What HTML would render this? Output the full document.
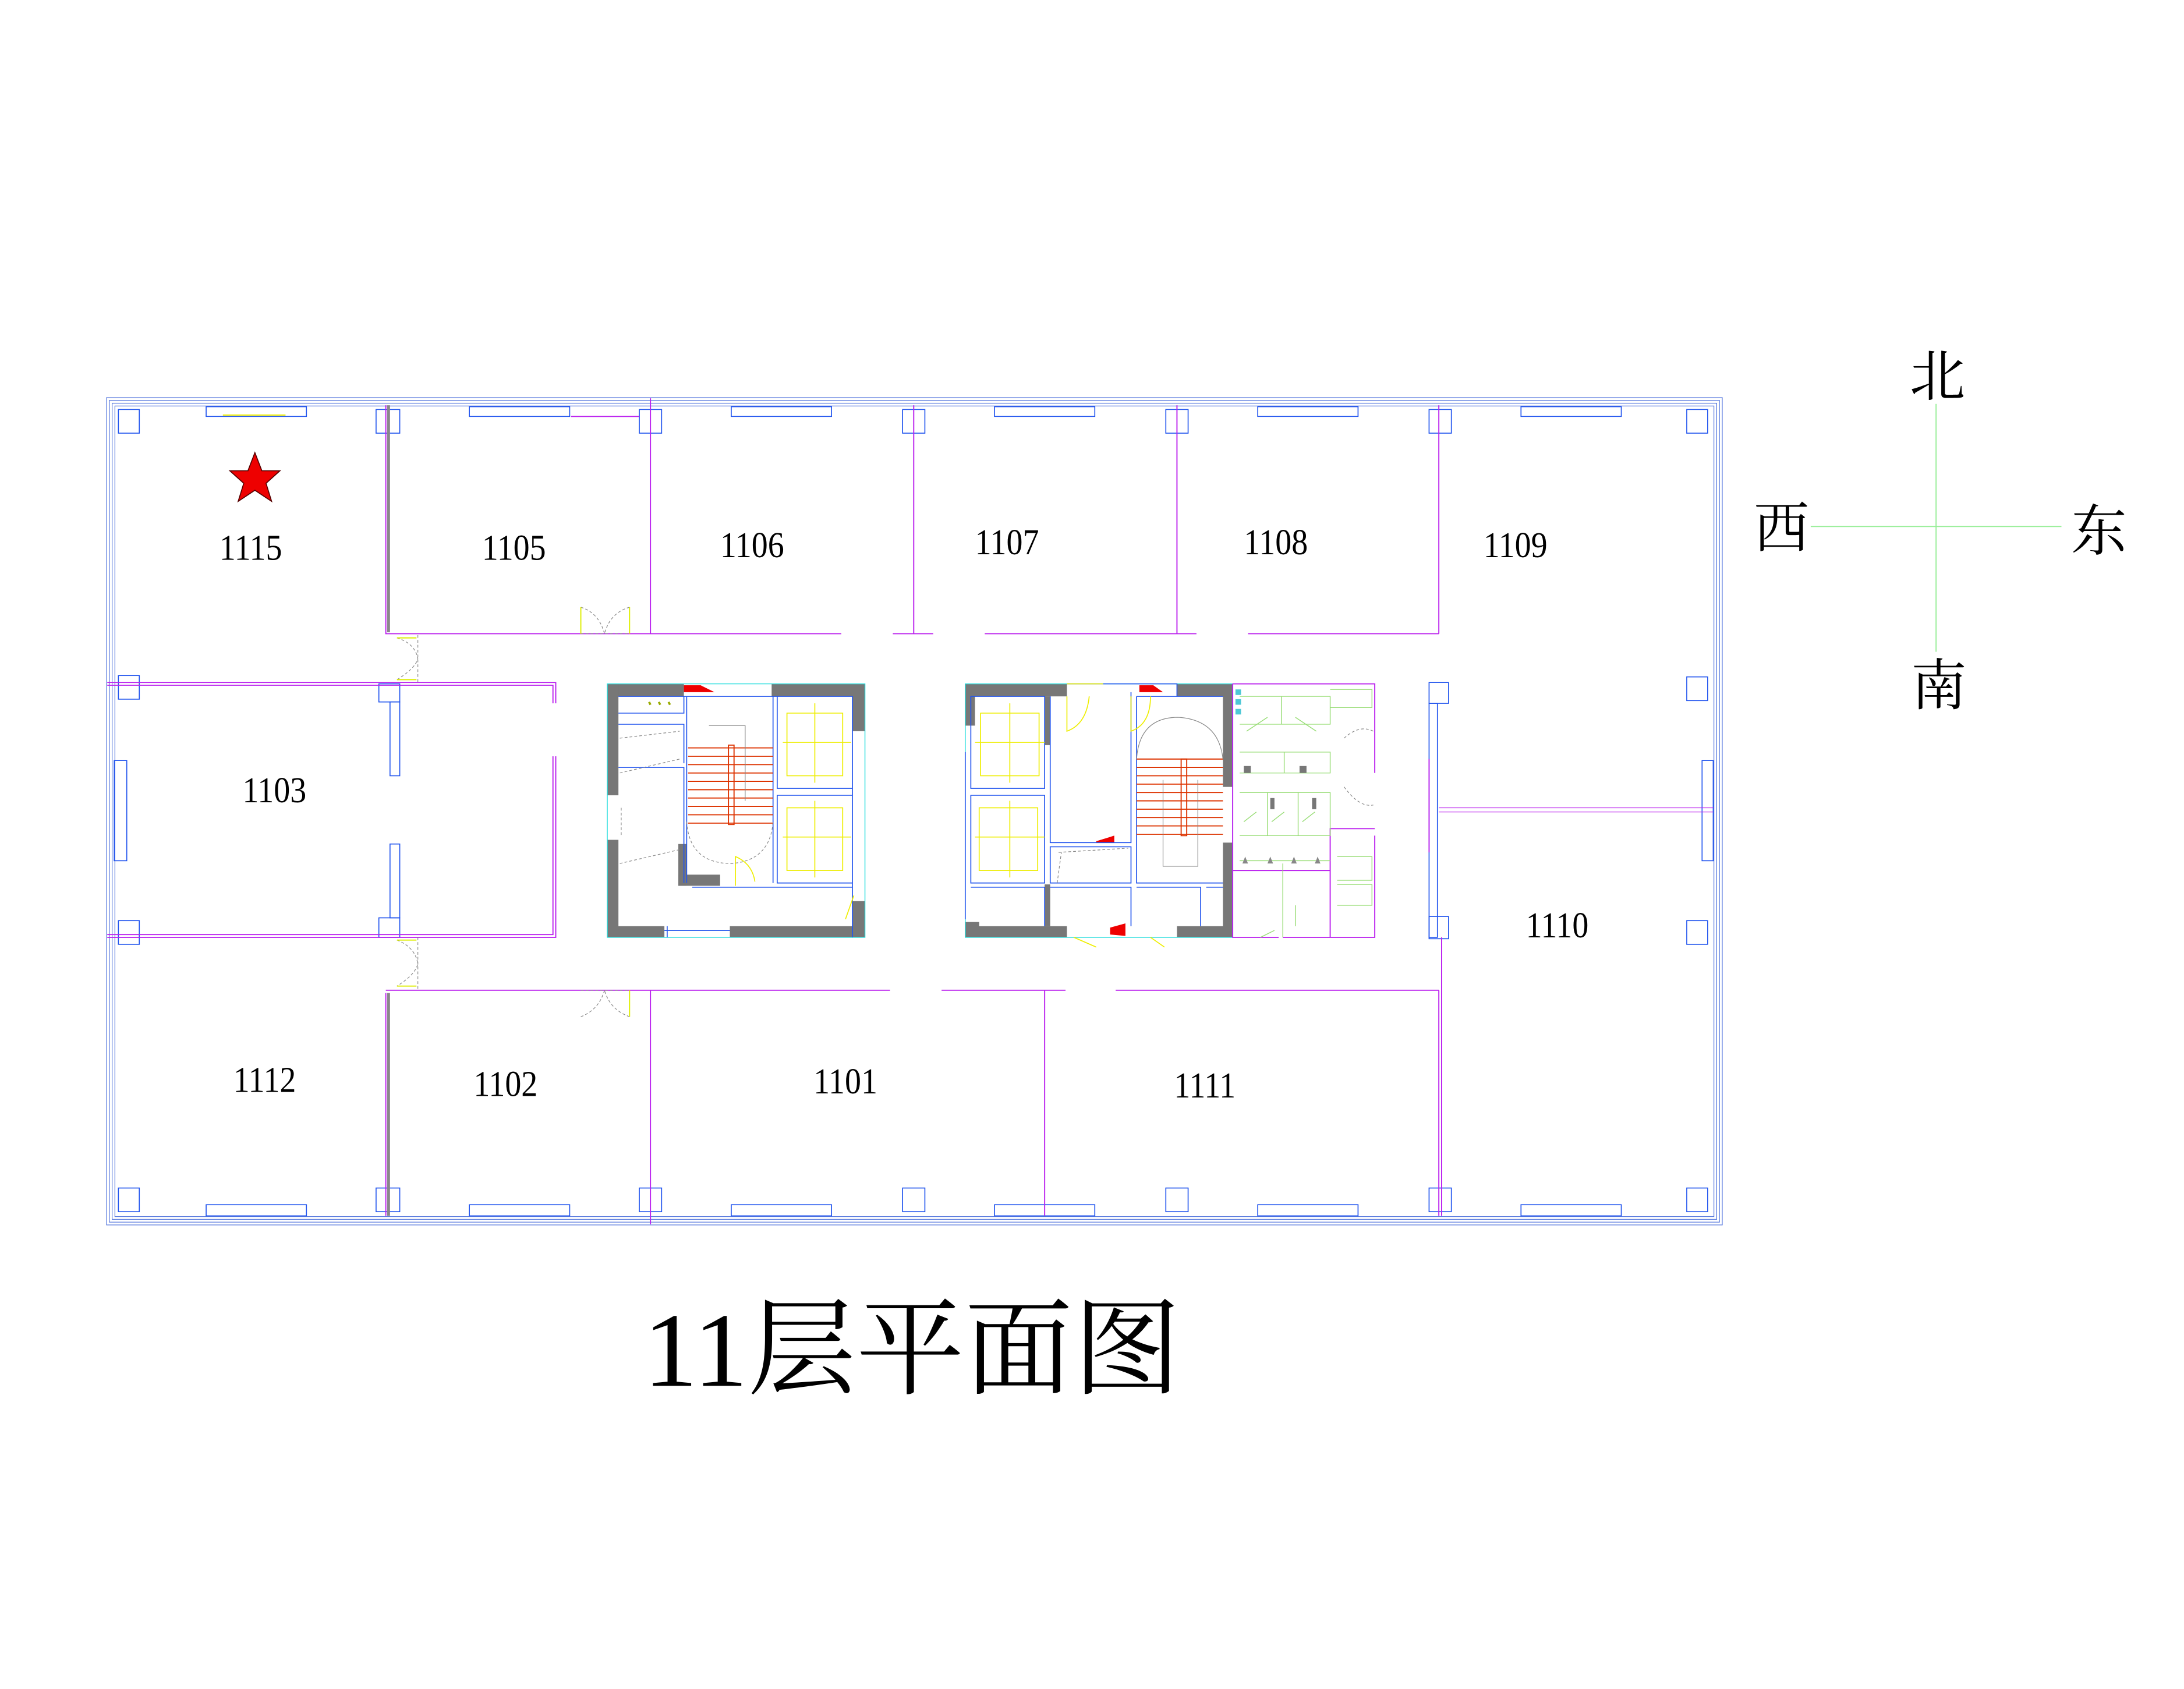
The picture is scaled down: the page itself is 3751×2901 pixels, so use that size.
<!DOCTYPE html>
<html><head><meta charset="utf-8"><style>
html,body{margin:0;padding:0;background:#fff;}
svg{display:block;}
.t{font-family:"Liberation Serif","Noto Serif CJK SC",serif;fill:#000;}
.b{fill:none;stroke:#2255ee;stroke-width:0.7}
.o{fill:none;stroke:#5577dd;stroke-width:0.5}
.m{fill:none;stroke:#bb22ee;stroke-width:0.8}
.g{fill:#777}
.y{fill:none;stroke:#eeee00;stroke-width:0.7}
.lg{fill:none;stroke:#99dd77;stroke-width:0.6}
.r{stroke:#dd3300;stroke-width:0.8}
.c{fill:none;stroke:#22dddd;stroke-width:0.6}
.d{fill:none;stroke:#888;stroke-width:0.5;stroke-dasharray:2 1.5}
</style></head><body>
<svg width="3751" height="2901" viewBox="0 0 1568 1212.7" preserveAspectRatio="none" xmlns="http://www.w3.org/2000/svg">
<rect width="1568" height="1213" fill="#fff"/>
<!-- outer walls -->
<rect class="o" x="76.5" y="285.5" width="1160" height="594"/>
<rect class="o" x="78.5" y="287.5" width="1156" height="590"/>
<rect class="o" x="80.5" y="289.5" width="1152" height="586"/>
<rect class="o" x="82.5" y="291.5" width="1148" height="582"/>
<!-- columns -->
<g class="b">
<rect x="85" y="294" width="15" height="17"/><rect x="270" y="294" width="17" height="17"/><rect x="459" y="294" width="16" height="17"/><rect x="648" y="294" width="16" height="17"/><rect x="837" y="294" width="16" height="17"/><rect x="1026" y="294" width="16" height="17"/><rect x="1211" y="294" width="15" height="17"/>
<rect x="85" y="853" width="15" height="17"/><rect x="270" y="853" width="17" height="17"/><rect x="459" y="853" width="16" height="17"/><rect x="648" y="853" width="16" height="17"/><rect x="837" y="853" width="16" height="17"/><rect x="1026" y="853" width="16" height="17"/><rect x="1211" y="853" width="15" height="17"/>
<rect x="85" y="485" width="15" height="17"/><rect x="85" y="661" width="15" height="17"/><rect x="1211" y="486" width="15" height="17"/><rect x="1211" y="661" width="15" height="17"/>
<rect x="1026" y="490" width="14" height="15"/><rect x="1026" y="658" width="14" height="16"/>
<!-- windows -->
<rect x="148" y="292" width="72" height="7"/><rect x="337" y="292" width="72" height="7"/><rect x="525" y="292" width="72" height="7"/><rect x="714" y="292" width="72" height="7"/><rect x="903" y="292" width="72" height="7"/><rect x="1092" y="292" width="72" height="7"/>
<rect x="148" y="865" width="72" height="8"/><rect x="337" y="865" width="72" height="8"/><rect x="525" y="865" width="72" height="8"/><rect x="714" y="865" width="72" height="8"/><rect x="903" y="865" width="72" height="8"/><rect x="1092" y="865" width="72" height="8"/>
<rect x="82" y="546" width="9" height="72"/><rect x="1222" y="546" width="8" height="72"/>
<rect x="1026" y="505" width="6" height="168"/>
<rect x="272" y="491" width="15" height="13"/><rect x="280" y="504" width="7" height="53"/><rect x="280" y="606" width="7" height="53"/><rect x="272" y="659" width="15" height="14"/>
</g>
<line x1="160" y1="298" x2="205" y2="298" stroke="#ee0" stroke-width="0.8"/>
<line x1="410" y1="299" x2="459" y2="299" class="m"/>
<!-- magenta partitions -->
<g class="m">
<path d="M277 291V455H604M641 455H670M707 455H859M896 455H1033"/>
<path d="M279 291V454" stroke="#888" stroke-width="2"/>
<path d="M467 286V455M656 291V455M845 291V455M1033 291V455"/>
<path d="M77 490H399V505M77 492H397V505M399 543V673H77M397 543V671H77"/>
<path d="M277 711H639M676 711H765M801 711H1033M277 713V873M467 711V879M750 711V873M1033 711V873M1035 673V873"/>
<path d="M279 713V873" stroke="#888" stroke-width="2"/>
<path d="M1033 580H1230M1033 583H1230" stroke-width="0.5"/>
<path d="M1026 545V612" />
</g>
<!-- doors -->
<g class="d"><path d="M417 436Q430 440 434 455M452 436Q438 440 434 455M417 455H452"/>
<path d="M285 458Q298 462 300 473Q298 480 285 488M300 456V490"/>
<path d="M285 675Q298 680 300 692Q298 700 285 708M300 673V711"/>
<path d="M417 711H452M417 730Q430 725 434 711M452 730Q438 725 434 711"/></g>
<g stroke="#ddee00" stroke-width="0.8"><path d="M417 436V455M452 436V455M285 458H299M285 488H299M285 675H299M285 708H299M452 711V730"/></g>
<!-- star -->
<polygon points="183,325 188,338 201,338 191,347 195,360 183,352 171,360 175,347 165,338 178,338" fill="#ee0000" stroke="#550000" stroke-width="0.7"/>
<!-- LEFT CORE -->
<g>
<rect class="g" x="436" y="491" width="55" height="9"/><rect class="g" x="554" y="491" width="67" height="9"/><rect class="g" x="612" y="491" width="9" height="34"/>
<rect class="g" x="436" y="491" width="8" height="80"/><rect class="g" x="436" y="603" width="8" height="70"/>
<rect class="g" x="436" y="665" width="41" height="8"/><rect class="g" x="524" y="665" width="97" height="8"/><rect class="g" x="612" y="647" width="9" height="26"/>
<rect class="g" x="487" y="606" width="6" height="30"/><rect class="g" x="487" y="628" width="30" height="8"/>
<rect class="c" x="436" y="491" width="185" height="182"/>
<polygon points="491,492 503,492 513,497 491,497" fill="#e00"/>
<g class="b"><path d="M444 500H612V673M444 512H491V500M444 520H491V548M444 551H491V634M493 500V634M555 500V634M558 500H612V566H558ZM558 571H612V634H558ZM497 637H612M477 668H524M479 665V673"/></g>
<g class="y"><rect x="565" y="512" width="40" height="45"/><rect x="565" y="580" width="40" height="45"/><path d="M562 533H611M562 601H611M585 505V562M585 575V630"/><path d="M528 636V615Q540 620 542 633"/></g>
<path d="M613 643L607 660" stroke="#ee0" stroke-width="0.7"/>
<path d="M466 504l1 2M473 504l1 2M480 504l1 2" stroke="#9a0" stroke-width="1.5"/>
<g class="r"><path d="M494 537H555M494 543H555M494 549H555M494 555H555M494 561H555M494 567H555M494 573H555M494 579H555M494 585H555M494 591H555"/></g>
<rect x="523" y="535" width="4" height="57" fill="none" stroke="#dd3300" stroke-width="0.8"/>
<path d="M493 590Q495 620 525 620Q553 618 555 590" class="d" stroke-dasharray="none"/>
<path d="M445 530L488 525M445 555L488 545M446 580V600M445 620L488 610" class="d"/>
<path d="M509 521H535V575" stroke="#888" stroke-width="0.5" fill="none"/>
</g>
<!-- RIGHT CORE -->
<g>
<rect class="g" x="693" y="491" width="73" height="9"/><rect class="g" x="693" y="491" width="7" height="30"/>
<rect class="g" x="845" y="491" width="40" height="9"/><rect class="g" x="878" y="491" width="7" height="74"/><rect class="g" x="878" y="605" width="7" height="68"/>
<rect class="g" x="693" y="665" width="73" height="8"/><rect class="g" x="845" y="665" width="40" height="8"/><rect class="g" x="693" y="662" width="10" height="11"/>
<rect class="g" x="750" y="500" width="4" height="35"/><rect class="g" x="750" y="635" width="4" height="30"/>
<rect class="c" x="693" y="491" width="192" height="182"/>
<polygon points="818,492 828,492 835,497 818,497" fill="#e00"/>
<polygon points="787,604 800,600 800,605 787,605" fill="#e00"/>
<polygon points="797,666 808,663 808,672 797,671" fill="#e00"/>
<g class="b"><path d="M697 500H750V566H697ZM697 571H750V634H697ZM754 500V605H812V497M816 500H878M816 500V634H878M754 608H812V634H754ZM697 637H750V665M754 637H812V665M816 637H862V665M866 637H878M693 540V660M766 491H845V500"/></g>
<g class="y"><rect x="704" y="512" width="42" height="45"/><rect x="703" y="580" width="42" height="45"/><path d="M700 533H750M700 601H750M725 505V562M725 575V630"/><path d="M766 500V525Q780 520 782 500M766 491H792M812 500V525Q826 520 826 500"/><path d="M771 673L787 680M826 673L836 680"/></g>
<g class="r"><path d="M816 545H878M816 551H878M816 557H878M816 563H878M816 569H878M816 575H878M816 581H878M816 587H878M816 593H878M816 599H878"/></g>
<rect x="848" y="545" width="4" height="55" fill="none" stroke="#dd3300" stroke-width="0.8"/>
<path d="M816 545Q818 515 846 515Q875 517 878 545" fill="none" stroke="#888" stroke-width="0.5"/>
<path d="M835 560V622H860V560" fill="none" stroke="#888" stroke-width="0.5"/>
<path d="M760 612L810 609M759 634L762 612" class="d"/>
</g>
<!-- TOILETS -->
<g>
<path class="m" d="M885 491H987V555M987 600V673H921M918 673H885V491M885 625H955V595H987M955 625V673"/>
<g class="lg"><path d="M890 500H955V520H890M920 500V520M955 495H985V508H955M890 540H955V555H890M922 540V555M890 569H955V600H890M910 569V600M932 569V600M890 618H955M960 615H985V632H960M960 635H985V650H960M921 620V673M930 650V665"/>
<path d="M895 525L910 515M930 515L945 525M893 590L902 583M913 590L922 583M935 590L944 583M905 673L915 668"/></g>
<g class="d"><path d="M965 530Q976 520 986 525M965 565Q976 580 986 578"/></g>
<g fill="#2bc" opacity="0.8"><rect x="887" y="495" width="4" height="4"/><rect x="887" y="502" width="4" height="4"/><rect x="887" y="509" width="4" height="4"/></g>
<g fill="#777"><rect x="893" y="550" width="5" height="5"/><rect x="933" y="550" width="5" height="5"/><rect x="912" y="573" width="3" height="8"/><rect x="942" y="573" width="3" height="8"/></g>
<g fill="#888"><path d="M892 620l2-5 2 5zM910 620l2-5 2 5zM927 620l2-5 2 5zM944 620l2-5 2 5z"/></g>
</g>
<!-- labels -->
<g class="t" font-size="26" text-anchor="middle">
<text x="180" y="402" transform="translate(180 0) scale(0.9 1) translate(-180 0)">1115</text>
<text x="369" y="402" transform="translate(369 0) scale(0.9 1) translate(-369 0)">1105</text>
<text x="540" y="400" transform="translate(540 0) scale(0.9 1) translate(-540 0)">1106</text>
<text x="723" y="398" transform="translate(723 0) scale(0.9 1) translate(-723 0)">1107</text>
<text x="916" y="398" transform="translate(916 0) scale(0.9 1) translate(-916 0)">1108</text>
<text x="1088" y="400" transform="translate(1088 0) scale(0.9 1) translate(-1088 0)">1109</text>
<text x="197" y="576" transform="translate(197 0) scale(0.9 1) translate(-197 0)">1103</text>
<text x="1118" y="673" transform="translate(1118 0) scale(0.9 1) translate(-1118 0)">1110</text>
<text x="190" y="784" transform="translate(190 0) scale(0.9 1) translate(-190 0)">1112</text>
<text x="363" y="787" transform="translate(363 0) scale(0.9 1) translate(-363 0)">1102</text>
<text x="607" y="785" transform="translate(607 0) scale(0.9 1) translate(-607 0)">1101</text>
<text x="865" y="788" transform="translate(865 0) scale(0.9 1) translate(-865 0)">1111</text>
</g>
<!-- compass -->
<path d="M1390 290V468M1300 378H1480" stroke="#99ee99" stroke-width="0.8"/>
<g class="t" font-size="40" text-anchor="middle" font-family="'Noto Serif CJK SC',serif">
<text x="1391" y="284">北</text>
<text x="1279" y="393">西</text>
<text x="1507" y="395">东</text>
<text x="1392" y="506">南</text>
</g>
<!-- title -->
<text class="t" x="462" y="995" font-size="76" textLength="386" lengthAdjust="spacingAndGlyphs" font-family="'Liberation Serif','Noto Serif CJK SC',serif">11层平面图</text>
</svg>
</body></html>
